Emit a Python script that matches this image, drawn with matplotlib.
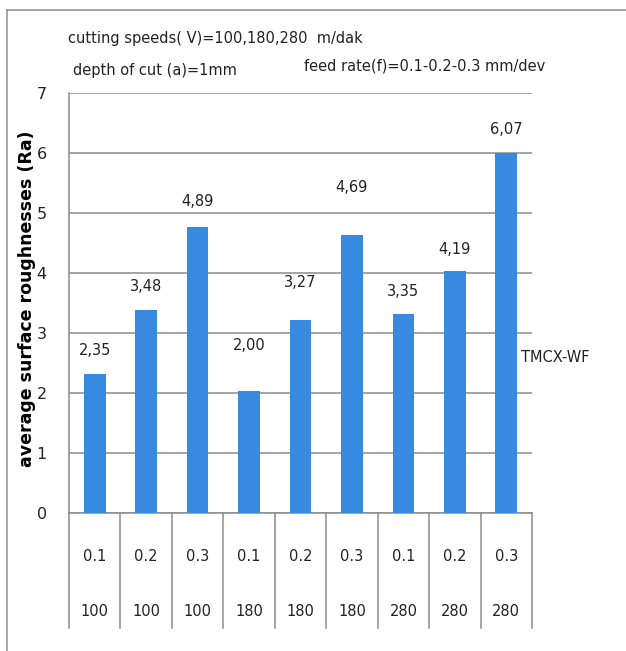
import matplotlib.pyplot as plt
import matplotlib.transforms as mtransforms
from matplotlib.lines import Line2D
import numpy as np

# feed rate / cutting speed per bar
feed = ['0.1', '0.2', '0.3', '0.1', '0.2', '0.3', '0.1', '0.2', '0.3']
speed = ['100', '100', '100', '180', '180', '180', '280', '280', '280']
ra = [2.31, 3.38, 4.76, 2.03, 3.22, 4.64, 3.31, 4.04, 6.0]        # bar heights as drawn
ra_labels = ['2,35', '3,48', '4,89', '2,00', '3,27', '4,69', '3,35', '4,19', '6,07']
label_y = [2.71, 3.77, 5.19, 2.79, 3.84, 5.42, 3.69, 4.40, 6.39]  # where the labels were dragged to

plt.rcParams['font.family'] = 'DejaVu Sans'

fig = plt.figure(figsize=(6.26, 6.51), dpi=100)
ax = fig.add_axes([69/626, 1-513/651, (532-69)/626, (513-93)/651])

x = np.arange(len(ra))
ax.bar(x, ra, width=0.42, color='#378ADF', zorder=3)
for xi, t, ly in zip(x, ra_labels, label_y):
    ax.text(xi, ly, t, ha='center', va='center', fontsize=10.5, color='#222222')

ax.set_xlim(-0.5, len(ra)-0.5)
ax.set_ylim(0, 7)
ax.set_yticks(range(8))
ax.yaxis.grid(True, color='#8c8c8c', lw=1.1, zorder=0)
ax.tick_params(axis='y', length=0, pad=16, labelsize=11.5, labelcolor='#222222')
ax.set_xticks([])
for s in ['top', 'right']:
    ax.spines[s].set_visible(False)
ax.spines['left'].set_color('#8c8c8c')
ax.spines['bottom'].set_color('#8c8c8c')
ax.spines['left'].set_linewidth(1.1)
ax.spines['bottom'].set_linewidth(1.1)

# table style category axis
trans = mtransforms.blended_transform_factory(ax.transData, ax.transAxes)
for b in np.arange(len(ra)+1) - 0.5:
    ax.plot([b, b], [0, -0.274], transform=trans, color='#8c8c8c', lw=1.1, clip_on=False)
for xi, f, s in zip(x, feed, speed):
    ax.text(xi, -0.104, f, transform=trans, ha='center', va='center', fontsize=10.5, color='#222222')
    ax.text(xi, -0.235, s, transform=trans, ha='center', va='center', fontsize=10.5, color='#222222')

ax.set_ylabel('average surface roughnesses (Ra)', fontsize=12.5, fontweight='bold')
ax.yaxis.set_label_coords(-0.072, 0.51)

fig.text(68/626, 1-38/651, 'cutting speeds( V)=100,180,280  m/dak', fontsize=10.5, va='center', color='#222222')
fig.text(73/626, 1-70/651, 'depth of cut (a)=1mm', fontsize=10.5, va='center', color='#222222')
fig.text(304/626, 1-66/651, 'feed rate(f)=0.1-0.2-0.3 mm/dev', fontsize=10.5, va='center', color='#222222')
fig.text(521/626, 1-358/651, 'TMCX-WF', fontsize=10.5, va='center', color='#222222')

# outer frame: only top and left edges are visible in the crop
fig.lines.append(Line2D([7/626, 1.0], [1-10/651, 1-10/651], transform=fig.transFigure, color='#8c8c8c', lw=1.1))
fig.lines.append(Line2D([7/626, 7/626], [0, 1-10/651], transform=fig.transFigure, color='#8c8c8c', lw=1.1))

fig.savefig('out.png', dpi=100)
